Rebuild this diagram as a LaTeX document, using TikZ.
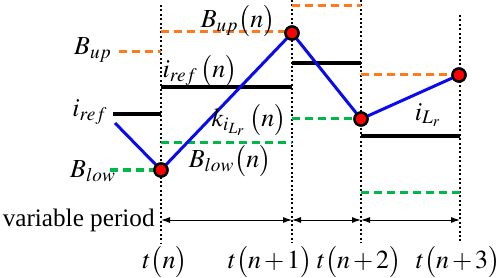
\documentclass[tikz,border=0pt]{standalone}
\usepackage{mathptmx}
\usepackage{fontspec}
\setmainfont{Liberation Serif}
\usetikzlibrary{arrows.meta,positioning}
\definecolor{BoundOrange}{RGB}{255,122,28}
\definecolor{BoundGreen}{RGB}{0,184,72}
\definecolor{CurrentBlue}{RGB}{10,10,240}
\tikzset{
  gridline/.style={line width=0.6pt,dash pattern=on 1pt off 1.2pt},
  upbound/.style={BoundOrange,line width=1.5pt,dash pattern=on 4pt off 2.5pt},
  lowbound/.style={BoundGreen,line width=1.5pt,dash pattern=on 4pt off 2.5pt},
  refline/.style={black,line width=1.8pt},
  current/.style={CurrentBlue,line width=1.5pt},
  sample/.style={circle,fill=red,draw=black,line width=1.2pt,minimum size=6.5pt,inner sep=0pt},
  period/.style={{Latex[length=4.5pt,width=3pt]}-{Latex[length=4.5pt,width=3pt]},line width=0.5pt}
}
\medmuskip=2mu
\begin{document}
\begin{tikzpicture}[x=0.5pt,y=-0.5pt,>=Latex,font=\fontsize{13}{16}\selectfont,inner sep=1pt]
      \useasboundingbox (0,0) rectangle (498,278);
      % time instants
      \coordinate (T0) at (161,243);
      \coordinate (T1) at (292,243);
      \coordinate (T2) at (361,243);
      \coordinate (T3) at (460,243);
      \draw[gridline] (161,5)--(T0);
      \draw[gridline] (292,0)--(T1);
      \draw[gridline] (361,0)--(T2);
      \draw[gridline] (460,15)--(T3);
      % bounds and reference
      \draw[upbound] (119,52)--(161,52);
      \draw[upbound] (161,32)--(292,32);
      \draw[upbound] (292,6)--(361,6);
      \draw[upbound] (361,75)--(460,75);
      \draw[refline] (113,114)--(161,114);
      \draw[refline] (161,87)--(292,87);
      \draw[refline] (292,63)--(361,63);
      \draw[refline] (361,136)--(460,136);
      \draw[lowbound] (110,170)--(161,170);
      \draw[lowbound] (161,143)--(292,143);
      \draw[lowbound] (292,119)--(361,119);
      \draw[lowbound] (361,192)--(460,192);
      % inductor current
      \coordinate (S) at (115,123);
      \node[sample] (P0) at (161,170) {};
      \node[sample] (P1) at (292,33) {};
      \node[sample] (P2) at (361,119) {};
      \node[sample] (P3) at (459,75) {};
      \draw[current] (S)--(P0.center)--(P1.center)--(P2.center)--(P3.center);
      \foreach \p in {P0,P1,P2,P3} \node[sample] at (\p) {};
      % labels
      \node (Bup) at (93,50) {$B_{up}$};
      \node (Bupn) at (238,21) {$B_{up}\bigl(n\bigr)$};
      \node (iref) at (90,112) {$i_{ref}$};
      \node (irefn) at (200,71) {$i_{ref}\,\bigl(n\bigr)$};
      \node (kn) at (249,120) {$k_{i_{L_r}}\,\bigl(n\bigr)$};
      \node (Blown) at (230,161) {$B_{low}\bigl(n\bigr)$};
      \node (Blow) at (93,171) {$B_{low}$};
      \node (iLr) at (428,115) {$i_{L_r}$};
      % period arrows
      \coordinate (A0) at (161,220);
      \coordinate (A1) at (292,220);
      \coordinate (A2) at (361,220);
      \coordinate (A3) at (460,220);
      \node[anchor=east,inner sep=0pt,font=\fontsize{12.6}{15}\selectfont] (varper) at (155,220) {variable period};
      \draw[period] (A0)--(A1);
      \draw[period] (A1)--(A2);
      \draw[period] (A2)--(A3);
      \node (tn) at (165,262) {$t\bigl(n\bigr)$};
      \node (tn1) at (270,262) {$t\bigl(n+1\bigr)$};
      \node (tn2) at (359,262) {$t\bigl(n+2\bigr)$};
      \node (tn3) at (458,262) {$t\bigl(n+3\bigr)$};
    \end{tikzpicture}
\end{document}
